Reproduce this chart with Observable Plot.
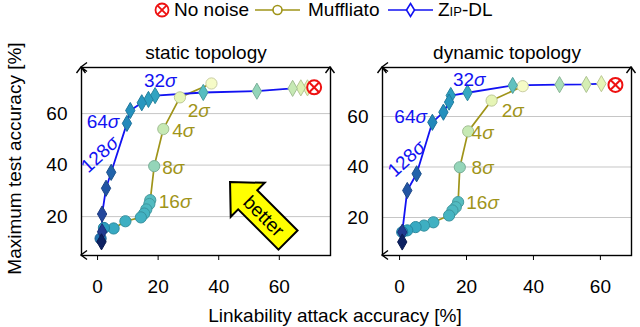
<!DOCTYPE html>
<html><head><meta charset="utf-8">
<script src="https://cdn.jsdelivr.net/npm/d3@7"></script>
<script src="https://cdn.jsdelivr.net/npm/@observablehq/plot@0.6"></script>
<style>
html,body{margin:0;padding:0;background:#fff;}
#root{position:relative;width:640px;height:327px;overflow:hidden;font-family:'Liberation Sans',Arial,Helvetica,sans-serif;}
#root svg{position:absolute;top:0;}
#xlabel{position:absolute;left:0;width:670px;top:306px;line-height:19px;font-size:19px;text-align:center;color:#000;}
</style></head><body><div id="root"><div id="xlabel">Linkability attack accuracy [%]</div></div>
<script>
// ---------- data ----------
const xTicks = [0, 20, 40, 60];
const yTicks = [20, 40, 60];
const panelTitles = ["static topology", "dynamic topology"];
const xAxisLabel = "Linkability attack accuracy [%]";
const yAxisLabel = "Maximum test accuracy [%]";
const legendLabels = ["No noise", "Muffliato", "Zip-DL"];

// static topology
const staticMuffX = [37.6, 27.2, 21.7, 18.7, 17.4, 17.1, 16.1, 15.4, 14.3, 9.2, 5.3, 2.1, 1.0];
const staticMuffY = [71.7, 66.3, 54.0, 39.6, 26.4, 24.9, 22.8, 21.2, 19.7, 18.2, 15.4, 15.6, 11.5];
const staticMuffLevel = [0.06, 0.14, 0.24, 0.34, 0.46, 0.47, 0.48, 0.50, 0.51, 0.52, 0.54, 0.58, 0.70];
const staticZipX = [69.3, 67.1, 64.4, 52.6, 34.9, 19.0, 16.8, 14.6, 10.8, 9.7, 4.5, 2.8, 1.5, 1.5, 1.3];
const staticZipY = [70.0, 70.0, 69.8, 68.7, 68.2, 67.0, 65.5, 64.2, 61.2, 56.2, 37.2, 31.0, 21.0, 14.1, 10.2];
const staticZipLevel = [0.14, 0.18, 0.24, 0.34, 0.46, 0.56, 0.58, 0.60, 0.62, 0.64, 0.74, 0.78, 0.82, 0.86, 0.98];
const staticNoNoise = [71.5, 70.2];
const staticZipLabelText = ["32σ", "64σ"];
const staticZipLabelX = [20.7, 1.8];
const staticZipLabelY = [72.8, 56.6];
const staticZipRotLabel = ["128σ"];
const staticZipRotX = [0.8];
const staticZipRotY = [44.1];
const staticMuffLabelText = ["2σ", "4σ", "8σ", "16σ"];
const staticMuffLabelX = [33.4, 28.3, 25.0, 25.6];
const staticMuffLabelY = [61.2, 53.4, 39.1, 25.6];
const betterArrowTip = [43.9, 33.2];

// dynamic topology
const dynMuffX = [36.8, 27.5, 20.5, 18.0, 17.5, 16.8, 15.8, 14.8, 10.1, 7.3, 4.8, 2.3, 0.8];
const dynMuffY = [72.0, 66.3, 54.1, 39.9, 26.1, 24.1, 22.8, 20.8, 18.1, 16.8, 16.2, 14.9, 14.2];
const dynMuffLevel = [0.06, 0.14, 0.24, 0.34, 0.46, 0.47, 0.48, 0.50, 0.51, 0.52, 0.54, 0.56, 0.62];
const dynZipX = [60.3, 55.8, 47.8, 33.8, 20.3, 15.3, 14.8, 13.1, 9.8, 5.1, 2.3, 0.8, 0.8];
const dynZipY = [73.0, 72.7, 72.6, 72.3, 69.4, 68.3, 65.7, 61.7, 57.7, 37.3, 30.7, 14.2, 10.3];
const dynZipLevel = [0.14, 0.20, 0.30, 0.44, 0.54, 0.58, 0.60, 0.62, 0.64, 0.74, 0.78, 0.86, 0.98];
const dynNoNoise = [64.5, 72.5];
const dynZipLabelText = ["32σ", "64σ"];
const dynZipLabelX = [20.8, 3.3];
const dynZipLabelY = [74.5, 59.7];
const dynZipRotLabel = ["128σ"];
const dynZipRotX = [2.1];
const dynZipRotY = [43.2];
const dynMuffLabelText = ["2σ", "4σ", "8σ", "16σ"];
const dynMuffLabelX = [33.8, 24.8, 24.8, 24.8];
const dynMuffLabelY = [62.1, 53.5, 39.7, 25.7];

// ---------- styles ----------
const OLIVE = "#9f9419";
const BLUE = "#1212f2";
const RED = "#ee1111";
const FONT = "'Liberation Sans', Arial, Helvetica, sans-serif";
const fillOf = t => d3.interpolateYlGnBu(t);
const edgeOf = t => d3.color(d3.interpolateYlGnBu(t)).darker(0.55).formatHex();
const zipT = (xs, ys, ts) => xs.map((x, i) => ({x, y: ys[i], t: ts[i]}));
const lab = (txt, xs, ys) => txt.map((s, i) => ({s, x: xs[i], y: ys[i]}));

function panel(o) {
  const muff = zipT(o.muffX, o.muffY, o.muffLvl);
  const zip = zipT(o.zipX, o.zipY, o.zipLvl);
  const noise = [{x: o.noise[0], y: o.noise[1]}];
  const marks = [
    Plot.ruleY(yTicks, {stroke: "#c6c6c6", strokeWidth: 1}),
    Plot.frame({stroke: "#000", strokeWidth: 1.4}),
    Plot.line(muff, {x: "x", y: "y", stroke: OLIVE, strokeWidth: 1.7}),
    Plot.line(zip, {x: "x", y: "y", stroke: BLUE, strokeWidth: 1.8}),
    Plot.dot(muff, {x: "x", y: "y", r: 5.6, fill: d => fillOf(d.t), stroke: d => edgeOf(d.t), strokeWidth: 1}),
    Plot.dot(zip, {x: "x", y: "y", r: 4.9, symbol: "diamond", fill: d => fillOf(d.t), stroke: d => edgeOf(d.t), strokeWidth: 1}),
    Plot.dot(noise, {x: "x", y: "y", r: 7, fill: "white", stroke: RED, strokeWidth: 2}),
    Plot.dot(noise, {x: "x", y: "y", r: 4.3, symbol: "times", stroke: RED, strokeWidth: 2}),
    Plot.text(lab(o.zipLabText, o.zipLabX, o.zipLabY), {x: "x", y: "y", text: "s", fill: BLUE}),
    Plot.text(lab(o.zipRot, o.zipRotX, o.zipRotY), {x: "x", y: "y", text: "s", fill: BLUE, rotate: -43}),
    Plot.text(lab(o.muffLabText, o.muffLabX, o.muffLabY), {x: "x", y: "y", text: "s", fill: OLIVE}),
    Plot.text([o.title], {text: d => d, frameAnchor: "top", dy: -22, fill: "#000"})
  ];
  if (o.yLabel) marks.push(Plot.text([o.yLabel], {text: d => d, frameAnchor: "left", textAnchor: "middle", dx: -67, dy: -3, rotate: -90, fill: "#000"}));
  const svg = Plot.plot({
    width: o.width, height: 327,
    marginLeft: o.ml, marginRight: o.mr, marginTop: 67, marginBottom: 72,
    style: {fontFamily: FONT, fontSize: "19px", background: "transparent", color: "#000", overflow: "visible"},
    x: {domain: o.xDomain, ticks: xTicks, tickSize: 5, tickPadding: 19, label: null},
    y: {domain: o.yDomain, ticks: yTicks, tickSize: 0, tickPadding: 14, label: null},
    marks
  });
  const sel = d3.select(svg);
  // italic sigma
  sel.selectAll("text").each(function() {
    const s = this.textContent;
    if (s.endsWith("σ") && !this.querySelector("tspan")) {
      this.textContent = s.slice(0, -1);
      d3.select(this).append("tspan").attr("font-style", "italic").text("σ");
    }
  });
  // frame arrow heads
  const x1 = o.ml, x2 = o.width - o.mr, y1 = 67, y2 = 255;
  const g = sel.append("g").attr("fill", "none").attr("stroke", "#000").attr("stroke-width", 1.4).attr("stroke-linejoin", "miter");
  const left = (x, y) => `M${x + 6},${y - 4.5}L${x},${y}L${x + 6},${y + 4.5}`;
  const up = (x, y) => `M${x - 4.5},${y + 6}L${x},${y}L${x + 4.5},${y + 6}`;
  g.append("path").attr("d", left(x1, y1) + up(x1, y1) + left(x1, y2) + up(x2, y1));
  // "better" arrow
  if (o.arrow) {
    const sx = svg.scale("x"), sy = svg.scale("y");
    const ax = sx.apply(o.arrow[0]), ay = sy.apply(o.arrow[1]);
    const ag = sel.append("g").attr("transform", `translate(${ax},${ay}) rotate(45)`);
    ag.append("path").attr("d", "M0,0L25,-24L25,-13.5L82,-13.5L82,13.5L25,13.5L25,24Z")
      .attr("fill", "#ffff00").attr("stroke", "#000").attr("stroke-width", 2).attr("stroke-linejoin", "miter");
    ag.append("text").attr("x", 48).attr("y", 0).attr("dy", "0.35em").attr("text-anchor", "middle")
      .attr("font-size", 19).attr("font-family", FONT).attr("fill", "#000").text("better");
  }
  svg.style.left = o.left + "px";
  return svg;
}

const root = document.getElementById("root");
root.appendChild(panel({
  left: 0, width: 335, ml: 81, mr: 5, xDomain: [-5.3, 76.9], yDomain: [4.9, 77.9], title: panelTitles[0], yLabel: yAxisLabel,
  muffX: staticMuffX, muffY: staticMuffY, muffLvl: staticMuffLevel,
  zipX: staticZipX, zipY: staticZipY, zipLvl: staticZipLevel, noise: staticNoNoise,
  zipLabText: staticZipLabelText, zipLabX: staticZipLabelX, zipLabY: staticZipLabelY,
  zipRot: staticZipRotLabel, zipRotX: staticZipRotX, zipRotY: staticZipRotY,
  muffLabText: staticMuffLabelText, muffLabX: staticMuffLabelX, muffLabY: staticMuffLabelY,
  arrow: betterArrowTip
}));
root.appendChild(panel({
  left: 335, width: 305, ml: 47, mr: 9, xDomain: [-5.1, 69.3], yDomain: [4.95, 79.4], title: panelTitles[1],
  muffX: dynMuffX, muffY: dynMuffY, muffLvl: dynMuffLevel,
  zipX: dynZipX, zipY: dynZipY, zipLvl: dynZipLevel, noise: dynNoNoise,
  zipLabText: dynZipLabelText, zipLabX: dynZipLabelX, zipLabY: dynZipLabelY,
  zipRot: dynZipRotLabel, zipRotX: dynZipRotX, zipRotY: dynZipRotY,
  muffLabText: dynMuffLabelText, muffLabX: dynMuffLabelX, muffLabY: dynMuffLabelY
}));
document.getElementById("xlabel").textContent = xAxisLabel;

// ---------- legend ----------
const leg = d3.select(root).append("svg").attr("width", 640).attr("height", 26)
  .style("left", "0px").style("top", "0px").attr("font-family", FONT).attr("font-size", 19);
const lc = 10, lb = 16;
const nn = leg.append("g").attr("transform", `translate(162,${lc})`);
nn.append("circle").attr("r", 6.5).attr("fill", "white").attr("stroke", RED).attr("stroke-width", 1.8);
nn.append("path").attr("d", "M-4.4,-4.4L4.4,4.4M-4.4,4.4L4.4,-4.4").attr("stroke", RED).attr("stroke-width", 1.8);
leg.append("text").attr("x", 174).attr("y", lb).text(legendLabels[0]);
leg.append("line").attr("x1", 255).attr("x2", 300).attr("y1", lc).attr("y2", lc).attr("stroke", OLIVE).attr("stroke-width", 1.7);
leg.append("circle").attr("cx", 277.5).attr("cy", lc).attr("r", 4.5).attr("fill", "white").attr("stroke", OLIVE).attr("stroke-width", 1.6);
leg.append("text").attr("x", 308).attr("y", lb).text(legendLabels[1]);
leg.append("line").attr("x1", 388).attr("x2", 433).attr("y1", lc).attr("y2", lc).attr("stroke", BLUE).attr("stroke-width", 1.7);
leg.append("path").attr("d", `M410.5,${lc - 6.5}L414.5,${lc}L410.5,${lc + 6.5}L406.5,${lc}Z`).attr("fill", "white").attr("stroke", BLUE).attr("stroke-width", 1.6);
leg.append("text").attr("x", 438).attr("y", lb).style("font-variant", "small-caps").text(legendLabels[2]);
</script></body></html>
